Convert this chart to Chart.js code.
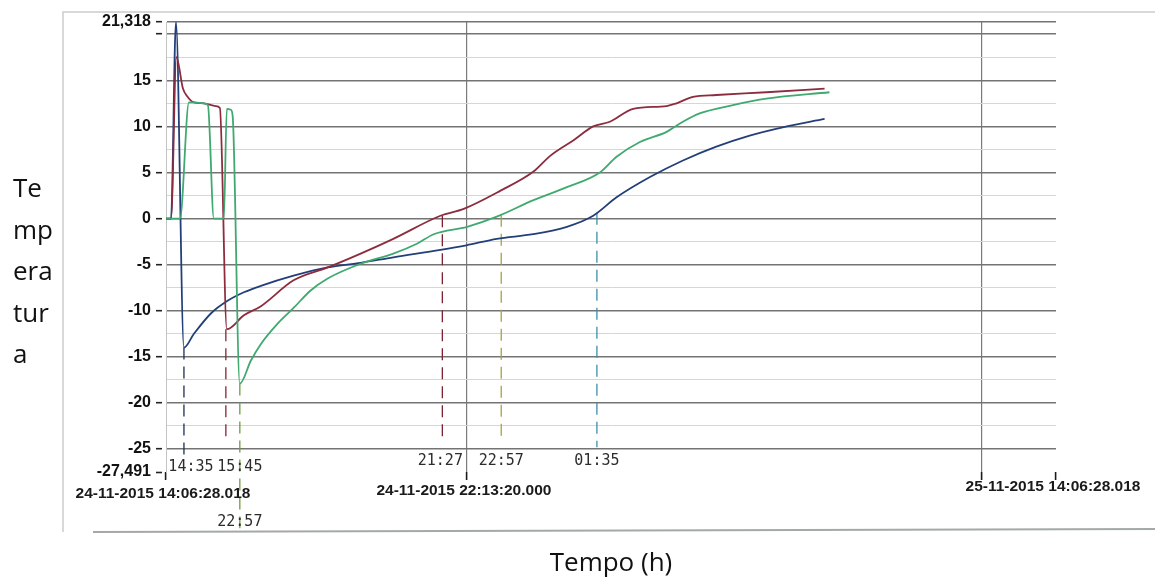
<!DOCTYPE html>
<html>
<head>
<meta charset="utf-8">
<title>Temperatura</title>
<script src="https://cdn.jsdelivr.net/npm/chart.js@4/dist/chart.umd.min.js"></script>
<style>
  html, body { margin: 0; padding: 0; background: #fff; }
  canvas { display: block; }
</style>
</head>
<body>
<canvas id="temp-plot" width="1155" height="588"></canvas>
<script>
// tempo em horas desde 24-11-2015 14:06:28.018
const blueHours = [0, 0.135, 0.269, 0.484, 0.753, 1.21, 1.67, 2.10, 2.56, 3.44, 4.36, 5.25, 6.13, 7.40, 8.10, 8.92, 9.90, 10.81, 11.52, 12.15, 13.05, 13.94, 14.84, 15.74, 16.63, 17.76];
const blueTemps = [0, 0, 21.318, -14.0, -12.5, -10.3, -8.9, -8.0, -7.3, -6.2, -5.3, -4.8, -4.2, -3.4, -2.9, -2.2, -1.7, -0.9, 0.3, 2.3, 4.5, 6.3, 7.8, 9.0, 9.9, 10.8];

const redHours = [0, 0.135, 0.28, 0.457, 0.565, 0.753, 1.022, 1.345, 1.453, 1.641, 2.10, 2.56, 3.44, 4.36, 5.25, 6.13, 7.40, 8.03, 9.01, 9.91, 10.36, 10.99, 11.52, 11.97, 12.60, 13.50, 13.77, 14.21, 14.84, 16.19, 17.76];
const redTemps = [0, 0, 17.5, 14.1, 13.3, 12.6, 12.5, 12.2, 12.0, -12.0, -10.5, -9.5, -6.7, -5.3, -3.8, -2.2, 0.3, 1.05, 3.0, 5.1, 6.8, 8.5, 10.0, 10.5, 11.9, 12.2, 12.5, 13.2, 13.4, 13.7, 14.1];

const greenHours = [0, 0.377, 0.619, 0.753, 1.022, 1.13, 1.29, 1.56, 1.64, 1.75, 1.80, 1.99, 2.29, 2.56, 3.01, 3.44, 3.90, 4.36, 5.25, 6.13, 6.78, 7.22, 8.12, 8.92, 9.91, 10.81, 11.70, 12.15, 12.78, 13.50, 13.94, 14.39, 15.29, 16.19, 17.89];
const greenTemps = [0, 0, 12.6, 12.6, 12.5, 12.3, 0, 0, 11.9, 11.8, 11.0, -17.9, -15.4, -13.6, -11.4, -9.7, -7.8, -6.5, -4.9, -3.8, -2.7, -1.7, -0.9, 0.2, 2.0, 3.4, 5.0, 6.7, 8.3, 9.4, 10.5, 11.4, 12.3, 13.0, 13.7];

// linhas de referência tracejadas: instante, valor de partida e valor final
const markerHours = [0.484, 1.614, 1.991, 7.452, 9.04, 11.62];
const markerTops = [-14.0, -12.0, -17.9, 0.36, 0.42, 0.62];
const markerEnds = [-25.9, -24.3, -33.6, -24.3, -24.3, -24.8];
const markerLabels = ['14:35', '15:45', '22:57', '21:27', '22:57', '01:35'];

const xTickHours = [0, 8.1144, 22, 24];
const xTickLabels = ['24-11-2015 14:06:28.018', '24-11-2015 22:13:20.000', '', '25-11-2015 14:06:28.018'];

const yMin = -27.491;
const yMax = 21.318;
const yTicks = [-27.491, -25, -22.5, -20, -17.5, -15, -12.5, -10, -7.5, -5, -2.5, 0, 2.5, 5, 7.5, 10, 12.5, 15, 17.5, 20, 21.318];
const yTickLabels = ['-27,491', '-25', '', '-20', '', '-15', '', '-10', '', '-5', '', '0', '', '5', '', '10', '', '15', '', '', '21,318'];

const yTitleLines = ['Te', 'mp', 'era', 'tur', 'a'];
const xTitle = 'Tempo (h)';

// estilos
const markerColors = ['#1d2f57', '#8a2233', '#6f9c3c', '#7d2232', '#aaa23e', '#3f8ea8'];
const markerLabelShift = [7, 14, 0, -2, 0, 0];
const markerLabelRow = [-5, -5, 50, -11, -11, -11];
const dateLabelRow = [22, 19, 0, 15];

const toPoints = (xs, ys) => xs.map((x, i) => ({ x: x, y: ys[i] }));

const isMajor = v => Math.abs(v / 5 - Math.round(v / 5)) < 1e-6 || v === yMax;

const seriesStyle = color => ({
  borderColor: color,
  borderWidth: 1.8,
  pointRadius: 0,
  fill: false,
  cubicInterpolationMode: 'monotone'
});

const datasets = [
  Object.assign({ data: toPoints(greenHours, greenTemps) }, seriesStyle('#3fa96f')),
  Object.assign({ data: toPoints(redHours, redTemps) }, seriesStyle('#8c2c3e')),
  Object.assign({ data: toPoints(blueHours, blueTemps) }, seriesStyle('#233f78'))
];

markerHours.forEach((h, i) => {
  datasets.push({
    data: [{ x: h, y: markerTops[i] }, { x: h, y: markerEnds[i] }],
    borderColor: markerColors[i],
    borderWidth: 1.3,
    borderDash: [12, 7],
    pointRadius: 0,
    clip: false
  });
});

const decorations = {
  id: 'decorations',
  beforeDraw(chart) {
    const ctx = chart.ctx;
    ctx.save();
    ctx.fillStyle = '#fff';
    ctx.fillRect(0, 0, chart.width, chart.height);
    ctx.strokeStyle = '#cbcbcb';
    ctx.lineWidth = 1.5;
    ctx.beginPath();
    ctx.moveTo(63, 532);
    ctx.lineTo(63, 12);
    ctx.lineTo(chart.width, 12);
    ctx.stroke();
    ctx.strokeStyle = '#a3a9a5';
    ctx.lineWidth = 2;
    ctx.beginPath();
    ctx.moveTo(93, 532);
    ctx.lineTo(chart.width, 529);
    ctx.stroke();
    ctx.restore();
  },
  afterDraw(chart) {
    const ctx = chart.ctx;
    const area = chart.chartArea;
    const x = chart.scales.x;
    ctx.save();

    // datas sob o eixo do tempo
    ctx.font = 'bold 15.5px "Liberation Sans", Arial, sans-serif';
    ctx.fillStyle = '#1a1a1a';
    ctx.textAlign = 'center';
    ctx.textBaseline = 'middle';
    xTickHours.forEach((h, i) => {
      if (!xTickLabels[i]) return;
      ctx.fillText(xTickLabels[i], x.getPixelForValue(h) - 3, area.bottom + dateLabelRow[i]);
    });

    // horas das linhas tracejadas
    ctx.font = '15px "DejaVu Sans Mono", monospace';
    ctx.fillStyle = '#2c2c2c';
    markerHours.forEach((h, i) => {
      ctx.fillText(markerLabels[i], x.getPixelForValue(h) + markerLabelShift[i], area.bottom + markerLabelRow[i]);
    });

    // títulos dos eixos
    ctx.font = '26px "Open Sans", sans-serif';
    ctx.fillStyle = '#111';
    ctx.textBaseline = 'alphabetic';
    ctx.fillText(xTitle, (area.left + area.right) / 2, 571);
    ctx.textAlign = 'left';
    yTitleLines.forEach((line, i) => {
      ctx.fillText(line, 13, 197 + i * 41.5);
    });
    ctx.restore();
  }
};

new Chart(document.getElementById('temp-plot').getContext('2d'), {
  type: 'line',
  data: { datasets: datasets },
  plugins: [decorations],
  options: {
    responsive: false,
    animation: false,
    events: [],
    layout: { padding: { top: 22, right: 99, left: 0, bottom: 0 } },
    plugins: {
      legend: { display: false },
      tooltip: { enabled: false }
    },
    scales: {
      x: {
        type: 'linear',
        min: 0,
        max: 24,
        afterBuildTicks: scale => { scale.ticks = xTickHours.map(v => ({ value: v })); },
        afterFit: scale => { scale.height = 116; },
        ticks: { display: false, autoSkip: false },
        border: { display: false },
        grid: {
          drawTicks: true,
          tickLength: 8,
          color: ctx => (ctx.tick && (ctx.tick.value === 8.1144 || ctx.tick.value === 22)) ? '#7a7a7a' : 'rgba(0,0,0,0)',
          lineWidth: 1.2,
          tickColor: '#1a1a1a',
          tickWidth: 1.6
        }
      },
      y: {
        type: 'linear',
        min: yMin,
        max: yMax,
        afterBuildTicks: scale => { scale.ticks = yTicks.map(v => ({ value: v })); },
        afterFit: scale => { scale.width = 166; },
        border: { display: true, color: '#c4c4c4', width: 1 },
        ticks: {
          autoSkip: false,
          padding: 5,
          color: '#111',
          font: { family: '"Liberation Sans", Arial, sans-serif', weight: 'bold', size: 16 },
          callback: (value, index) => yTickLabels[index]
        },
        grid: {
          tickLength: 10,
          tickBorderDash: [6, 10],
          color: ctx => {
            const v = ctx.tick ? ctx.tick.value : 0;
            if (v === yMin) return 'rgba(0,0,0,0)';
            return isMajor(v) ? '#747474' : '#d6d6d6';
          },
          lineWidth: ctx => (ctx.tick && isMajor(ctx.tick.value)) ? 1.4 : 1,
          tickColor: ctx => {
            const v = ctx.tick ? ctx.tick.value : 0;
            return (isMajor(v) || v === yMin || v === 20) ? '#222' : 'rgba(0,0,0,0)';
          },
          tickWidth: 1.6
        }
      }
    }
  }
});
</script>
</body>
</html>
